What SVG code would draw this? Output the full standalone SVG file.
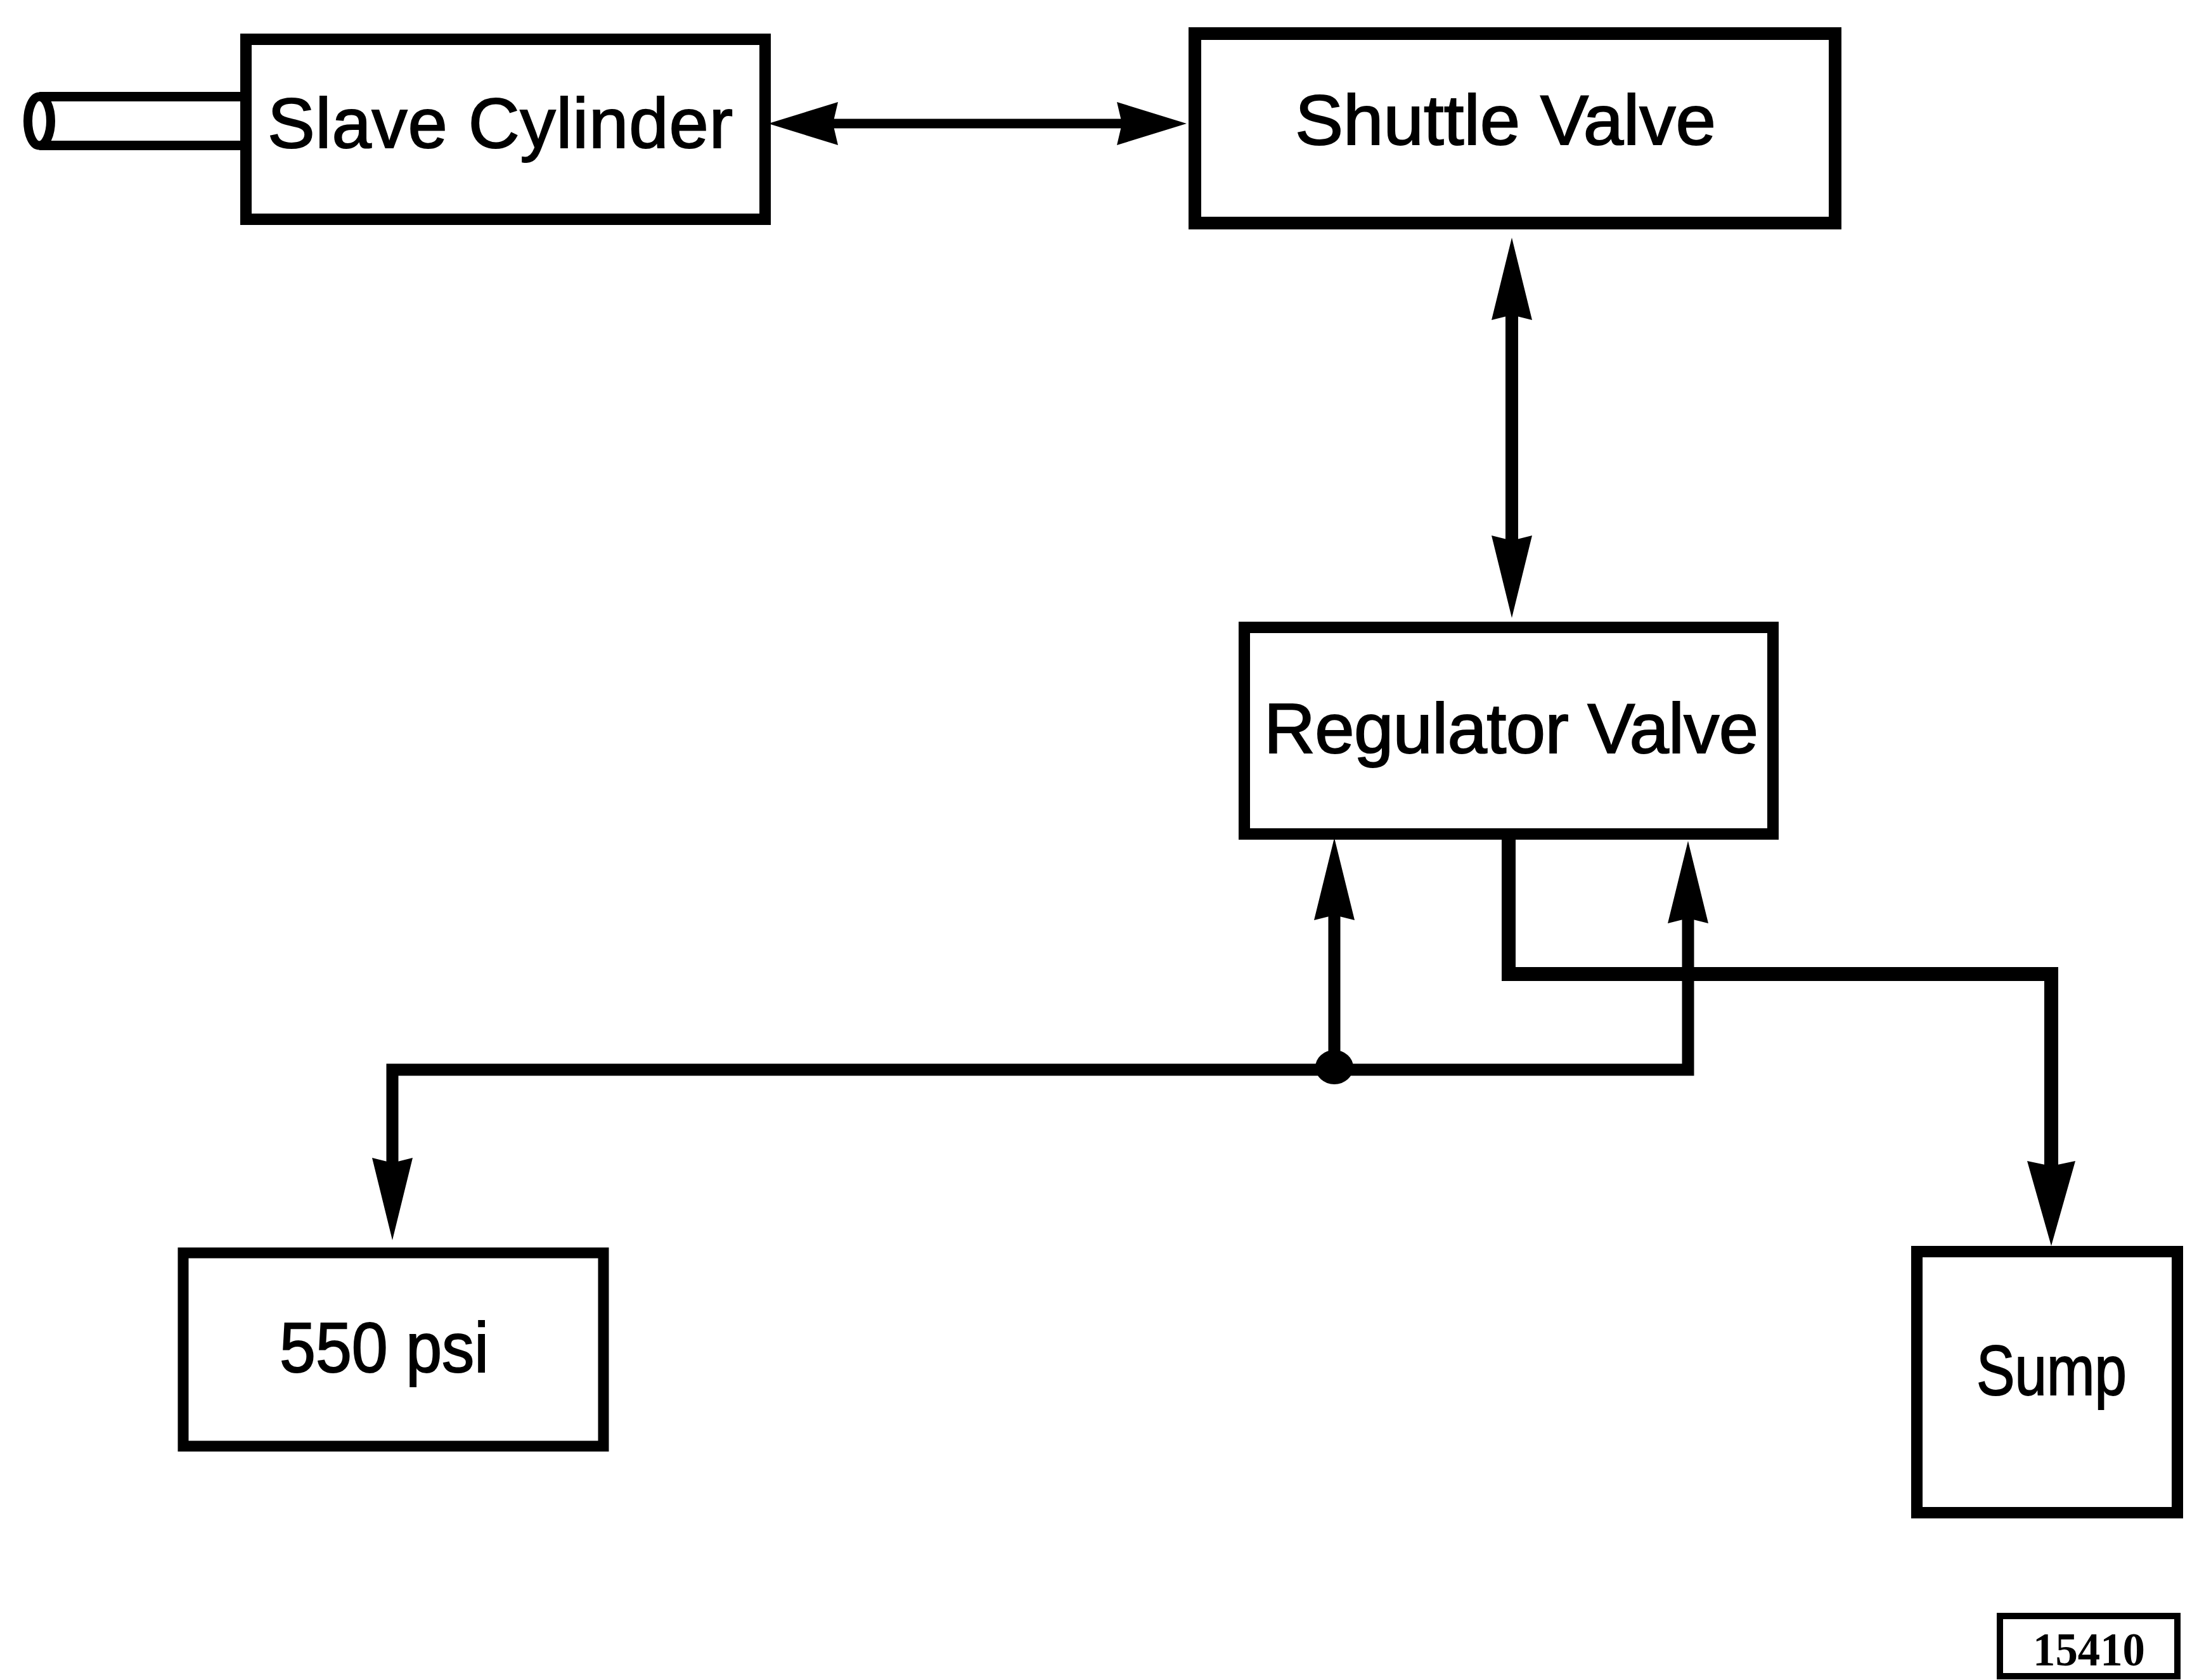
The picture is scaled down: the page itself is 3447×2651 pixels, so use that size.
<svg xmlns="http://www.w3.org/2000/svg" width="3447" height="2651" viewBox="0 0 3447 2651">
<style>
.box{fill:none;stroke:#000;stroke-linejoin:miter}
.lbl{font-family:"Liberation Sans","DejaVu Sans",sans-serif;font-size:112px;fill:#000;stroke:#000;stroke-width:2px}
.wire{fill:none;stroke:#000;stroke-linejoin:miter;stroke-linecap:butt}
</style>
<defs>
<marker id="ah" viewBox="0 0 110 68" refX="8" refY="34" markerWidth="110" markerHeight="68" markerUnits="userSpaceOnUse" orient="auto-start-reverse"><path d="M0,0 L110,34 L0,68 L8,34 Z" fill="#000"/></marker>
<marker id="av" viewBox="0 0 130 64" refX="8" refY="32" markerWidth="130" markerHeight="64" markerUnits="userSpaceOnUse" orient="auto-start-reverse"><path d="M0,0 L130,32 L0,64 L8,32 Z" fill="#000"/></marker>
<marker id="as" viewBox="0 0 134 76" refX="8" refY="38" markerWidth="134" markerHeight="76" markerUnits="userSpaceOnUse" orient="auto-start-reverse"><path d="M0,0 L134,38 L0,76 L8,38 Z" fill="#000"/></marker>
</defs>
<rect width="3447" height="2651" fill="#fff"/>

<g id="node-slave-cylinder">
<rect class="box" x="388" y="62" width="819" height="284" stroke-width="18"/>
<line x1="62" y1="152.5" x2="382" y2="152.5" stroke="#000" stroke-width="15"/>
<line x1="62" y1="229.5" x2="382" y2="229.5" stroke="#000" stroke-width="15"/>
<ellipse cx="62" cy="191" rx="18" ry="38.5" fill="#fff" stroke="#000" stroke-width="14"/>
<text class="lbl" x="422" y="233" textLength="734" lengthAdjust="spacing">Slave Cylinder</text>
</g>

<g id="node-shuttle-valve">
<rect class="box" x="1885" y="53" width="1010" height="299" stroke-width="20"/>
<text class="lbl" x="2043" y="228" textLength="664" lengthAdjust="spacingAndGlyphs">Shuttle Valve</text>
</g>

<g id="node-regulator-valve">
<rect class="box" x="1963" y="990" width="834" height="326" stroke-width="18"/>
<text class="lbl" x="1994" y="1188" textLength="780" lengthAdjust="spacing">Regulator Valve</text>
</g>

<g id="node-550psi">
<rect class="box" x="289" y="1977" width="663" height="305" stroke-width="17"/>
<text class="lbl" x="441" y="2165" textLength="330" lengthAdjust="spacingAndGlyphs">550 psi</text>
</g>

<g id="node-sump">
<rect class="box" x="3024" y="1975" width="411" height="412" stroke-width="18"/>
<text class="lbl" x="3118" y="2201" textLength="237" lengthAdjust="spacingAndGlyphs">Sump</text>
</g>

<g id="figure-number">
<rect class="box" x="3155" y="2550" width="280" height="95" stroke-width="10"/>
<text x="3207" y="2628" font-family="'Liberation Serif',serif" font-weight="bold" font-size="74" textLength="177" lengthAdjust="spacingAndGlyphs">15410</text>
</g>

<g id="connectors">
<path class="wire" d="M1314,195 H1770" stroke-width="15" marker-start="url(#ah)" marker-end="url(#ah)"/>
<path class="wire" d="M2385,497 V853" stroke-width="20" marker-start="url(#av)" marker-end="url(#av)"/>
<path class="wire" d="M2105,1688 V1444" stroke-width="19" marker-end="url(#av)"/>
<path class="wire" d="M619,1835 V1688 H2663 V1449" stroke-width="19" marker-start="url(#av)" marker-end="url(#av)"/>
<path class="wire" d="M2380,1325 V1537 H3236 V1840" stroke-width="22" marker-end="url(#as)"/>
<ellipse cx="2105" cy="1684" rx="30" ry="27" fill="#000"/>
</g>
</svg>
